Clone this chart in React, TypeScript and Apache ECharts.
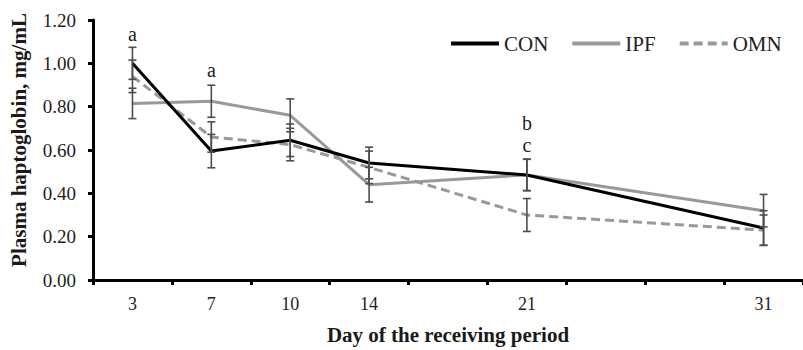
import React, { useEffect, useRef } from "react";
import * as echarts from "echarts";

// Category slots of the x axis (blank slots keep the original spacing)
const categories = ["3", "7", "10", "14", "", "21", "", "", "31"];

const conValues = [1.0, 0.595, 0.645, 0.54, null, 0.485, null, null, 0.24];
const ipfValues = [0.815, 0.825, 0.76, 0.44, null, 0.485, null, null, 0.32];
const omnValues = [0.94, 0.66, 0.625, 0.52, null, 0.3, null, null, 0.23];

const conSE = [0.074, 0.077, 0.075, 0.073, null, 0.073, null, null, 0.08];
const ipfSE = [0.07, 0.074, 0.076, 0.08, null, 0.072, null, null, 0.075];
const omnSE = [0.075, 0.07, 0.075, 0.075, null, 0.076, null, null, 0.07];

const yTicks = [0, 0.2, 0.4, 0.6, 0.8, 1.0, 1.2];

const annotations = [
  { day: "3", y: 1.135, text: "a" },
  { day: "7", y: 0.97, text: "a" },
  { day: "21", y: 0.725, text: "b" },
  { day: "21", y: 0.625, text: "c" },
];

const FONT = '"Liberation Serif", "Times New Roman", serif';

function errorData(values: (number | null)[], se: (number | null)[]) {
  const out: number[][] = [];
  values.forEach((v, i) => {
    if (v != null && se[i] != null) out.push([i, v - (se[i] as number), v + (se[i] as number)]);
  });
  return out;
}

export default function App() {
  const ref = useRef<HTMLDivElement>(null);
  useEffect(() => {
    if (!ref.current) return;
    const chart = echarts.init(ref.current, undefined, { renderer: "svg" });

    const errorSeries = (data: number[][], z: number) => ({
      type: "custom",
      z,
      silent: true,
      data,
      renderItem: (params: any, api: any) => {
        const x = api.value(0);
        const lo = api.coord([x, api.value(1)]);
        const hi = api.coord([x, api.value(2)]);
        const cap = 4;
        const style = { stroke: "#4d4d4d", lineWidth: 1.6 };
        return {
          type: "group",
          children: [
            { type: "line", shape: { x1: lo[0], y1: lo[1], x2: hi[0], y2: hi[1] }, style },
            { type: "line", shape: { x1: lo[0] - cap, y1: lo[1], x2: lo[0] + cap, y2: lo[1] }, style },
            { type: "line", shape: { x1: hi[0] - cap, y1: hi[1], x2: hi[0] + cap, y2: hi[1] }, style },
          ],
        };
      },
    });

    const annData = annotations.map((a) => [categories.indexOf(a.day), a.y, a.text]);

    chart.setOption({
      animation: false,
      backgroundColor: "#ffffff",
      grid: { left: 92, top: 20, bottom: 66, right: -9, containLabel: false },
      legend: {
        data: ["CON", "IPF", "OMN"],
        left: 444,
        top: 28,
        itemWidth: 48,
        itemHeight: 14,
        itemGap: 22,
        itemStyle: { opacity: 0, borderWidth: 0 },
        lineStyle: { width: 4 },
        textStyle: { fontFamily: FONT, fontSize: 21, color: "#222222" },
      },
      xAxis: {
        type: "category",
        data: categories,
        boundaryGap: true,
        name: "Day of the receiving period",
        nameLocation: "middle",
        nameGap: 44,
        nameTextStyle: { fontFamily: FONT, fontSize: 21, fontWeight: "bold", color: "#1a1a1a" },
        axisLine: { lineStyle: { color: "#000000", width: 3 } },
        axisTick: { show: true, interval: 0, length: 5, lineStyle: { color: "#000000", width: 3 } },
        axisLabel: { interval: 0, margin: 15, fontFamily: FONT, fontSize: 18, color: "#222222" },
        splitLine: { show: false },
      },
      yAxis: {
        type: "value",
        min: yTicks[0],
        max: yTicks[yTicks.length - 1],
        interval: 0.2,
        name: "Plasma haptoglobin, mg/mL",
        nameLocation: "middle",
        nameGap: 64,
        nameTextStyle: {
          fontFamily: FONT,
          fontSize: 21,
          fontWeight: "bold",
          color: "#1a1a1a",
          padding: [0, 0, 0, 20],
        },
        axisLine: { show: true, lineStyle: { color: "#000000", width: 3 } },
        axisTick: { show: true, length: 5, lineStyle: { color: "#000000", width: 3 } },
        axisLabel: {
          margin: 17,
          fontFamily: FONT,
          fontSize: 19,
          color: "#222222",
          formatter: (v: number) => v.toFixed(2),
        },
        splitLine: { show: false },
      },
      series: [
        {
          name: "CON",
          type: "line",
          data: conValues,
          connectNulls: true,
          symbol: "none",
          z: 4,
          lineStyle: { color: "#000000", width: 3 },
          itemStyle: { color: "#000000" },
        },
        {
          name: "IPF",
          type: "line",
          data: ipfValues,
          connectNulls: true,
          symbol: "none",
          z: 3,
          lineStyle: { color: "#999999", width: 3 },
          itemStyle: { color: "#999999" },
        },
        {
          name: "OMN",
          type: "line",
          data: omnValues,
          connectNulls: true,
          symbol: "none",
          z: 3,
          lineStyle: { color: "#999999", width: 3, type: [9, 5] },
          itemStyle: { color: "#999999" },
        },
        errorSeries(errorData(conValues, conSE), 5),
        errorSeries(errorData(ipfValues, ipfSE), 5),
        errorSeries(errorData(omnValues, omnSE), 5),
        {
          type: "custom",
          z: 6,
          silent: true,
          data: annData,
          renderItem: (params: any, api: any) => {
            const p = api.coord([api.value(0), api.value(1)]);
            return {
              type: "text",
              x: p[0],
              y: p[1],
              style: {
                text: annotations[params.dataIndex].text,
                fontFamily: FONT,
                fontSize: 20,
                fill: "#222222",
                align: "center",
                verticalAlign: "middle",
              },
            };
          },
        },
      ],
    });
    return () => chart.dispose();
  }, []);
  return (
    <div
      ref={ref}
      style={{ position: "fixed", left: 0, top: 0, width: 803, height: 350, background: "#fff" }}
    />
  );
}
